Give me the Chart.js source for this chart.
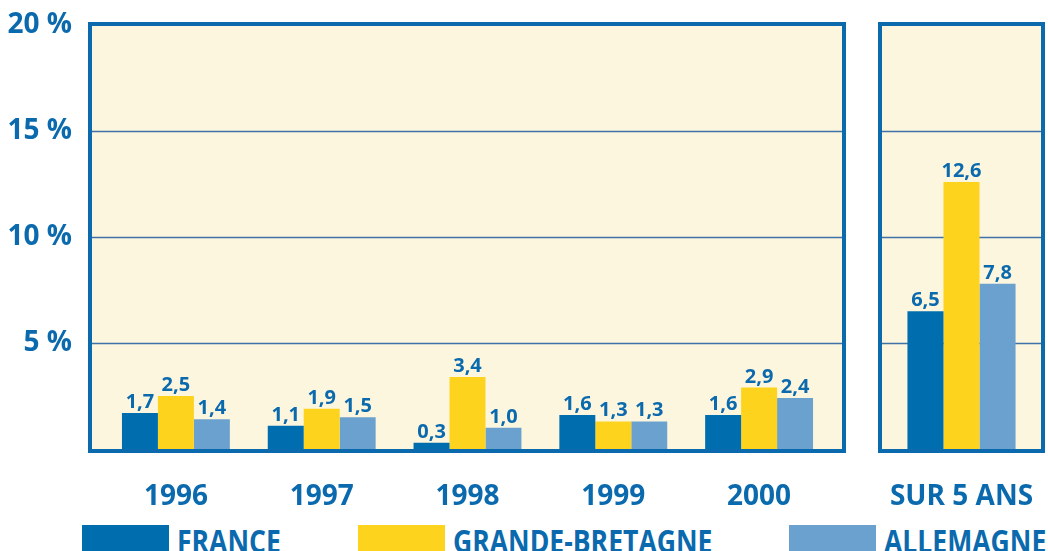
<!DOCTYPE html>
<html lang="fr">
<head>
<meta charset="utf-8">
<title>Croissance 1996-2000</title>
<script src="https://cdn.jsdelivr.net/npm/chart.js@4/dist/chart.umd.min.js"></script>
<style>
    html, body { margin: 0; padding: 0; background: #fff; overflow: hidden; }
    body { width: 1048px; height: 551px; position: relative; }
    .wrap { position: absolute; top: 0; }
    #wrap-years { left: 0; width: 850px; height: 515px; }
    #wrap-total { left: 850px; width: 198px; height: 515px; }
    #legend {
        position: absolute; left: 82px; right: 1px; top: 525px; height: 40px;
        display: flex; justify-content: space-between; align-items: flex-start;
    }
    .legend-item { display: flex; align-items: flex-start; }
    .legend-box { width: 87px; height: 30px; margin-right: 8px; flex: none; }
    .legend-label { overflow: visible; white-space: nowrap; }
    .legend-text {
        display: inline-block;
        font-family: "Open Sans", "Liberation Sans", sans-serif;
        font-weight: bold; font-size: 32px; line-height: 31px;
        color: #0a6aad;
        transform: scaleX(0.83); transform-origin: left top;
    }
</style>
</head>
<body>
<div class="wrap" id="wrap-years"><canvas id="chart-years"></canvas></div>
<div class="wrap" id="wrap-total"><canvas id="chart-total"></canvas></div>
<div id="legend"></div>

<script>
// ---------------------------------------------------------------------------
// Data
// ---------------------------------------------------------------------------
const years          = ['1996', '1997', '1998', '1999', '2000'];
const france         = [1.7, 1.1, 0.3, 1.6, 1.6];
const grandeBretagne = [2.5, 1.9, 3.4, 1.3, 2.9];
const allemagne      = [1.4, 1.5, 1.0, 1.3, 2.4];

const totalLabel          = ['SUR 5 ANS'];
const franceTotal         = [6.5];
const grandeBretagneTotal = [12.6];
const allemagneTotal      = [7.8];

const seriesNames  = ['FRANCE', 'GRANDE-BRETAGNE', 'ALLEMAGNE'];
const seriesColors = ['#006eae', '#fdd31d', '#6aa1cf'];

const yMax  = 20;
const yStep = 5;

const BLUE  = '#0a6aad';
const CREAM = '#fdf6de';
const FONT  = '"Open Sans", "Liberation Sans", sans-serif';
const LEGEND_SQUEEZE = 0.83;

// ---------------------------------------------------------------------------
// Plugins: framed cream panel with gridlines, value labels on bars
// ---------------------------------------------------------------------------

function panelPlugin(padLeft, padRight) {
    const box = (chart) => {
        const a = chart.chartArea;
        return { l: a.left - padLeft, r: a.right + padRight, t: a.top - 3, b: a.bottom + 4 };
    };
    return {
        id: 'panel',
        beforeDraw(chart) {
            const { ctx, scales } = chart;
            const p = box(chart);
            ctx.save();
            ctx.fillStyle = CREAM;
            ctx.fillRect(p.l, p.t, p.r - p.l, p.b - p.t);
            ctx.strokeStyle = '#3f72a8';
            ctx.lineWidth = 1.5;
            scales.y.ticks.forEach(t => {
                if (t.value <= 0 || t.value >= yMax) return;
                const y = Math.round(scales.y.getPixelForValue(t.value)) + 0.5;
                ctx.beginPath();
                ctx.moveTo(p.l, y);
                ctx.lineTo(p.r, y);
                ctx.stroke();
            });
            ctx.restore();
        },
        afterDatasetsDraw(chart) {
            const { ctx } = chart;
            const p = box(chart);
            ctx.save();
            ctx.strokeStyle = BLUE;
            ctx.lineWidth = 4;
            ctx.strokeRect(p.l + 2, p.t + 2, p.r - p.l - 4, p.b - p.t - 4);
            ctx.restore();
        },
    };
}

const valueLabels = {
    id: 'valueLabels',
    afterDatasetsDraw(chart) {
        const { ctx } = chart;
        ctx.save();
        ctx.font = `bold 20px ${FONT}`;
        ctx.fillStyle = BLUE;
        ctx.textAlign = 'center';
        ctx.textBaseline = 'alphabetic';
        chart.data.datasets.forEach((ds, i) => {
            chart.getDatasetMeta(i).data.forEach((bar, j) => {
                const txt = ds.data[j].toFixed(1).replace('.', ',');
                ctx.fillText(txt, bar.x, bar.y - 5);
            });
        });
        ctx.restore();
    },
};

// ---------------------------------------------------------------------------
// Charts
// ---------------------------------------------------------------------------

function makeDatasets(seriesData) {
    return seriesData.map((data, i) => ({
        label: seriesNames[i],
        data,
        backgroundColor: seriesColors[i],
        borderWidth: 0,
    }));
}

function baseOptions(categoryPct, showY) {
    return {
        responsive: true,
        maintainAspectRatio: false,
        animation: false,
        datasets: { bar: { categoryPercentage: categoryPct, barPercentage: 1 } },
        plugins: { legend: { display: false }, tooltip: { enabled: false } },
        scales: {
            x: {
                grid: { display: false, drawTicks: false },
                border: { display: false },
                ticks: { color: BLUE, font: { family: FONT, size: 28, weight: 'bold' }, padding: 31 },
                afterFit: (s) => {
                    s.height = 66;
                    s.paddingLeft = 0;
                    s.paddingRight = 0;
                },
            },
            y: {
                display: showY,
                min: 0,
                max: yMax,
                grid: { display: false, drawTicks: false },
                border: { display: false },
                ticks: {
                    stepSize: yStep,
                    color: BLUE,
                    padding: 31,
                    font: { family: FONT, size: 28, weight: 'bold' },
                    callback: v => (v === 0 ? '' : `${v} %`),
                },
                afterFit: (s) => {
                    if (showY) s.width = 103;
                    s.paddingTop = 0;
                    s.paddingBottom = 0;
                },
            },
        },
    };
}

const yearsOpts = baseOptions(0.74, true);
yearsOpts.layout = { padding: { top: 25, right: 18, left: 0, bottom: 0 } };

new Chart(document.getElementById('chart-years'), {
    type: 'bar',
    data: { labels: years, datasets: makeDatasets([france, grandeBretagne, allemagne]) },
    options: yearsOpts,
    plugins: [panelPlugin(15, 14), valueLabels],
});

const totalOpts = baseOptions(0.68, false);
totalOpts.layout = { padding: { top: 25, right: 7, left: 32, bottom: 0 } };

new Chart(document.getElementById('chart-total'), {
    type: 'bar',
    data: {
        labels: totalLabel,
        datasets: makeDatasets([franceTotal, grandeBretagneTotal, allemagneTotal]),
    },
    options: totalOpts,
    plugins: [panelPlugin(4, 4), valueLabels],
});

// ---------------------------------------------------------------------------
// Legend (text squeezed horizontally to mimic the condensed face)
// ---------------------------------------------------------------------------

const legendEl = document.getElementById('legend');
legendEl.innerHTML = seriesNames.map((name, i) => `
    <div class="legend-item">
        <div class="legend-box" style="background:${seriesColors[i]}"></div>
        <div class="legend-label"><span class="legend-text">${name}</span></div>
    </div>`).join('');
legendEl.querySelectorAll('.legend-label').forEach(lbl => {
    const txt = lbl.firstElementChild;
    lbl.style.width = Math.ceil(txt.offsetWidth * LEGEND_SQUEEZE) + 'px';
});
</script>
</body>
</html>
